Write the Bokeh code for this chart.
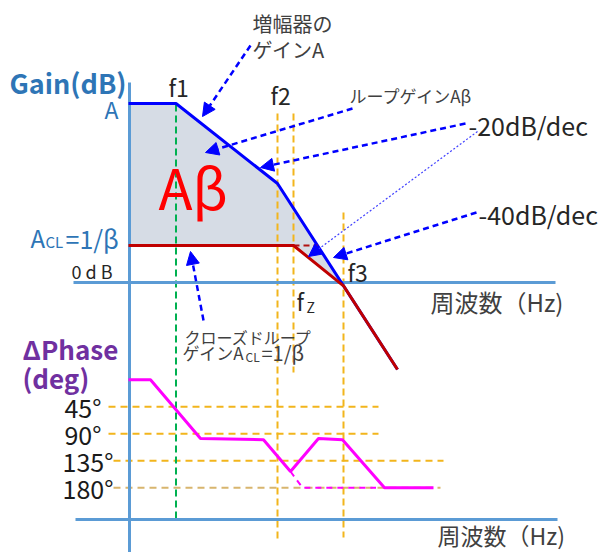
from bokeh.plotting import figure
from bokeh.models import Range1d, Arrow, NormalHead
from bokeh.core.properties import value
from bokeh.embed import file_html
from bokeh.resources import INLINE

# ---------------- data ----------------
# frequency positions in decades (log10 f, origin at the gain axis)
f1, f2, fz, f3 = 0.95, 2.98, 3.3, 4.3
# open-loop gain A (dB)
ol_dec = [0.0, f1, f2, 5.38]
ol_db = [89.5, 89.5, 49.5, -43.5]
# closed-loop gain ACL = 1/beta (dB)
acl_db = 18.5
cl_dec = [0.0, fz, f3, 5.38]
cl_db = [acl_db, acl_db, -1.65, -43.5]
# loop gain area (between A and ACL)
area_dec = [0.0, f1, f2, f3, fz, 0.0]
area_db = [89.5, 89.5, 49.5, -1.65, acl_db, acl_db]
# phase shift (deg)
ph_dec = [0.0, 0.44, 1.44, 2.7, 3.24, 3.8, 4.28, 5.12, 6.1]
ph_deg = [0, 0, 98, 100, 153, 98, 100, 180, 180]
ph_nozero_dec = [3.24, 3.48, 4.95]
ph_nozero_deg = [153, 180, 180]
phase_ticks = [45, 90, 135, 180]
phase_tick_labels = ["45°", "90°", "135°", "180°"]
phase_tick_x0 = [-0.4, -0.4, -0.3, -0.3]
phase_tick_x1 = [5.0, 5.0, 6.3, 6.24]

FONT = "Noto Sans CJK JP"
BLUE_AX = "#5b9bd5"
LBL_BLUE = "#2e75b6"
ORANGE = "#f2b51c"

W, H = 606, 552
p = figure(width=W, height=H, x_range=Range1d(0, W), y_range=Range1d(H, 0),
           output_backend="svg", toolbar_location=None, min_border=0)
p.axis.visible = False
p.grid.visible = False
p.outline_line_color = None
p.background_fill_color = "white"

# scales: decades / dB / degrees mapped into the page
p.extra_x_ranges = {"freq": Range1d((0 - 128) / 50, (W - 128) / 50)}
p.extra_y_ranges = {"gain": Range1d((282 - H) / 2, (282 - 0) / 2),
                    "phase": Range1d((H - 379.2) / 0.6, (0 - 379.2) / 0.6)}

G = dict(x_range_name="freq", y_range_name="gain")
P = dict(x_range_name="freq", y_range_name="phase")

# loop gain area
p.patch(area_dec, area_db, fill_color="#d6dce5", line_color=None, **G)

# phase reference lines
for d, x0, x1 in zip(phase_ticks, phase_tick_x0, phase_tick_x1):
    col = "#d8b56e" if d == 180 else ORANGE
    p.line([x0, x1], [d, d], line_color=col, line_width=2, line_dash="7 5", **P)

# vertical frequency markers (span in page pixels)
p.line([f1, f1], [104, 518], line_color="#00b050", line_width=2, line_dash="7 4", x_range_name="freq")
p.line([f2, f2], [113, 540], line_color=ORANGE, line_width=2, line_dash="7 4", x_range_name="freq")
p.line([fz, fz], [113, 372], line_color=ORANGE, line_width=2, line_dash="7 4", x_range_name="freq")
p.line([f3, f3], [212, 537], line_color=ORANGE, line_width=2, line_dash="7 4", x_range_name="freq")

# axes lines
p.line([129, 129], [82, 552], line_color=BLUE_AX, line_width=3)
p.line([73, 555], [282, 282], line_color=BLUE_AX, line_width=3)
p.line([75, 557], [519, 519], line_color=BLUE_AX, line_width=3)

# gain curves
p.line(ol_dec, ol_db, line_color="#0000ff", line_width=3, **G)
p.line([fz, 3.78], [acl_db, acl_db], line_color="#b01010", line_width=2, line_dash="6 4", **G)
p.line(cl_dec, cl_db, line_color="#c00000", line_width=3, **G)

# phase curves
p.line(ph_nozero_dec, ph_nozero_deg, line_color="#ff00ff", line_width=2, line_dash="6 5", **P)
p.line(ph_dec, ph_deg, line_color="#ff00ff", line_width=3, **P)

# arrows
def arrow(x0, y0, x1, y1, width=2.5, dash="6 4", color="#0000ff"):
    p.add_layout(Arrow(x_start=x0, y_start=y0, x_end=x1, y_end=y1,
                       line_color=color, line_width=width, line_dash=dash,
                       end=NormalHead(size=13, fill_color="#0000ff", line_color="#0000ff")))

arrow(250, 45, 202, 116)
arrow(352, 108, 205, 152)
arrow(465, 123, 260, 167)
arrow(477, 131, 308, 256, width=1.2, dash="2 2", color="#4040ff")
arrow(476, 212, 333, 257)
arrow(203, 320, 190, 251)

def label(x, y, s, size, color="#262626", bold=False, align="left"):
    p.text(x=[x], y=[y], text=[s], text_font=value(FONT), text_font_size=f"{size}px",
           text_color=color, text_align=align, text_baseline="middle",
           text_font_style="bold" if bold else "normal")

label(252, 23, "増幅器の", 20, "#404040")
label(252, 49, "ゲインA", 20, "#404040")
label(9, 82, "Gain(dB)", 27, LBL_BLUE, bold=True)
label(118, 108, "A", 23, LBL_BLUE, align="right")
label(168, 86, "f1", 23)
label(270, 94, "f2", 23)
label(349, 95, "ループゲインAβ", 17, "#404040")
label(468, 124, "-20dB/dec", 25)
label(158, 185, "Aβ", 56, "#ff0000")
label(478, 213, "-40dB/dec", 25)
# ACL = 1/beta
label(30, 237, "A", 24, LBL_BLUE)
label(45, 241, "CL", 15, LBL_BLUE)
label(65, 237, "=1/β", 25, LBL_BLUE)
label(71, 270, "0 d B", 18, "#262626")
label(347, 271, "f3", 23)
label(296, 300, "f", 23)
label(306, 306, "Z", 14)
label(430, 301, "周波数（Hz)", 24, "#404040")
label(184, 336, "クローズドループ", 16, "#404040")
label(182, 352, "ゲインA", 17, "#404040")
label(245, 356, "CL", 12, "#404040")
label(261, 352, "=1/β", 20, "#404040")
label(22, 348, "ΔPhase", 26, "#7030a0", bold=True)
label(22, 377, "(deg)", 26, "#7030a0", bold=True)
for d, t, xr in zip(phase_ticks, phase_tick_labels, [101, 101, 113, 113]):
    label(xr, 379.2 + 0.6 * d, t, 25, "#1a1a1a", align="right")
label(437, 534, "周波数（Hz)", 23, "#404040")

open("out.html", "w").write(file_html(p, INLINE))
